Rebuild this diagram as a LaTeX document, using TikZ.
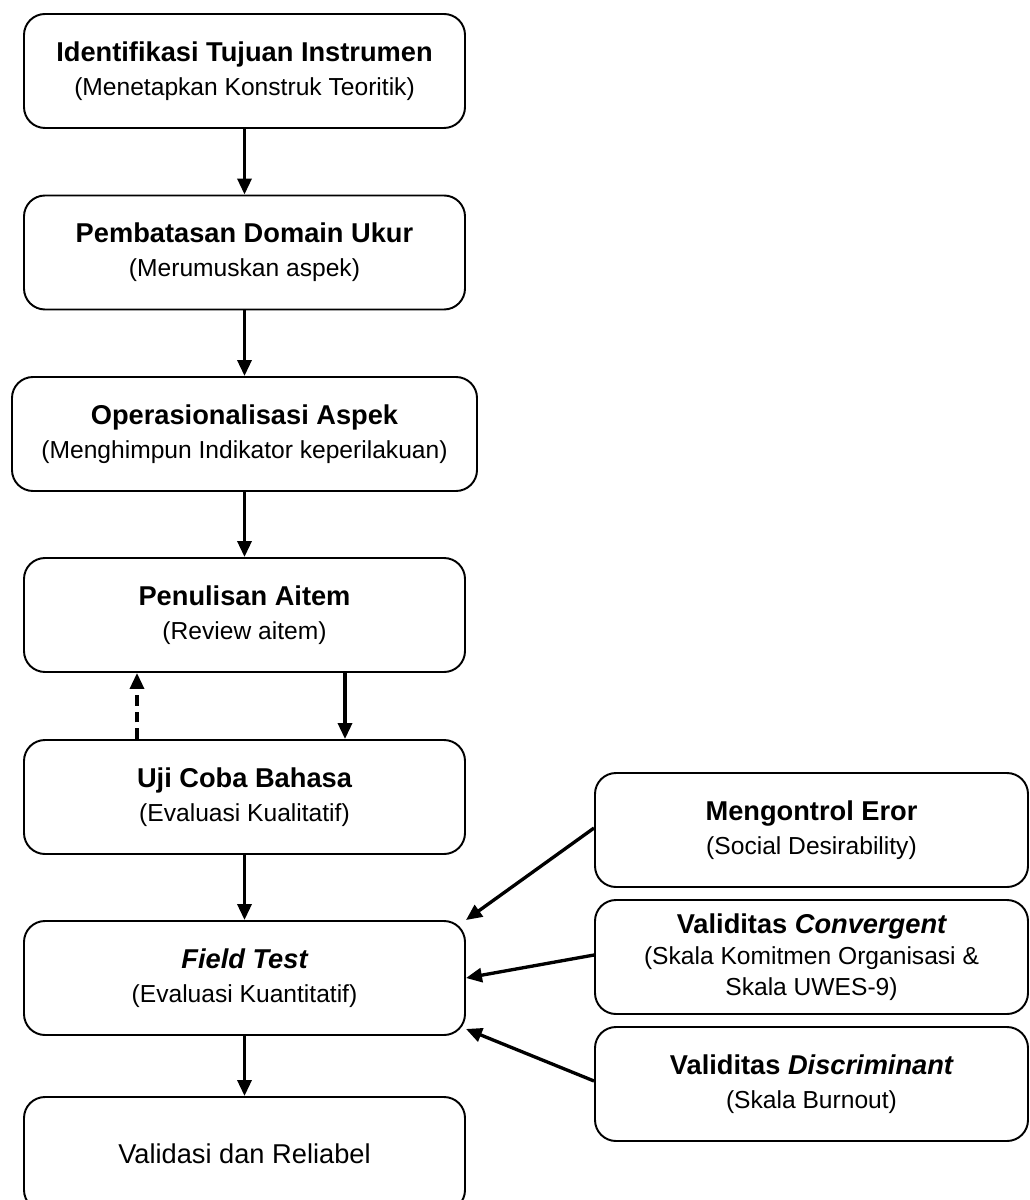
\documentclass[tikz,border=0pt]{standalone}
\usepackage{fontspec}
\setmainfont{Liberation Sans}
\usepackage{tikz}
\usetikzlibrary{arrows.meta}

\tikzset{
  box/.style={draw,line width=1.1pt,rounded corners=0.42cm,align=center,
    minimum width=8.82cm,minimum height=2.28cm,inner sep=0pt,
    font=\fontsize{14}{19.5}\selectfont},
  sidebox/.style={box,minimum width=8.66cm},
  link/.style={->,line width=1.9pt}
}
\newcommand{\ttl}[1]{{\fontsize{15.5}{19.5}\selectfont\bfseries #1}}

\begin{document}
\begin{tikzpicture}[>={Triangle[length=0.32cm,width=0.28cm]}]
  \useasboundingbox (0,0) rectangle (20.58,-24);

  \node[box] (tujuan) at (4.89,-1.42) {\ttl{Identifikasi Tujuan Instrumen}\\(Menetapkan Konstruk Teoritik)};
  \node[box] (domain) at (4.89,-5.05) {\ttl{Pembatasan Domain Ukur}\\(Merumuskan aspek)};
  \node[box,minimum width=9.30cm] (aspek) at (4.89,-8.68) {\ttl{Operasionalisasi Aspek}\\(Menghimpun Indikator keperilakuan)};
  \node[box] (aitem) at (4.89,-12.30) {\ttl{Penulisan Aitem}\\(Review aitem)};
  \node[box] (bahasa) at (4.89,-15.94) {\ttl{Uji Coba Bahasa}\\(Evaluasi Kualitatif)};
  \node[box] (field) at (4.89,-19.56) {\ttl{\itshape Field Test}\\(Evaluasi Kuantitatif)};
  \node[box,font=\fontsize{15.5}{19.5}\selectfont] (valid) at (4.89,-23.08) {Validasi dan Reliabel};

  \node[sidebox] (eror) at (16.23,-16.60) {\ttl{Mengontrol Eror}\\(Social Desirability)};
  \node[sidebox,font=\fontsize{14}{17.5}\selectfont] (conv) at (16.23,-19.14) {\ttl{Validitas \itshape Convergent}\\(Skala Komitmen Organisasi \&\\Skala UWES-9)};
  \node[sidebox] (disc) at (16.23,-21.68) {\ttl{Validitas \itshape Discriminant}\\(Skala Burnout)};

  \draw[link] (tujuan) -- (domain);
  \draw[link] (domain) -- (aspek);
  \draw[link] (aspek) -- (aitem);
  \draw[link] ([xshift=2.01cm]aitem.south) -- ([xshift=2.01cm]bahasa.north);
  \draw[link,dash pattern=on 6pt off 3.5pt] ([xshift=-2.15cm]bahasa.north) -- ([xshift=-2.15cm]aitem.south);
  \draw[link] (bahasa) -- (field);
  \draw[link] (field) -- (valid);

  \draw[link] ([yshift=0.04cm]eror.west) -- (field.north east);
  \draw[link] ([yshift=0.04cm]conv.west) -- (field.east);
  \draw[link] ([yshift=0.06cm]disc.west) -- ([yshift=0.14cm]field.south east);
\end{tikzpicture}
\end{document}
